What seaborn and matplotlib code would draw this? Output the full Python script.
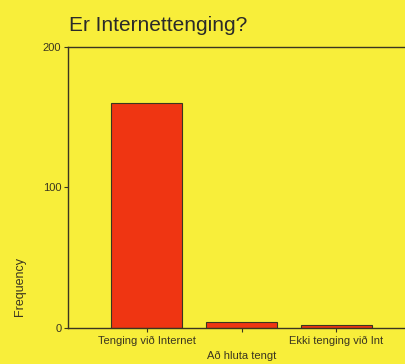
import matplotlib
matplotlib.use("Agg")
import matplotlib.pyplot as plt
import seaborn as sns
import pandas as pd

# data
categories = ["Tenging við Internet", "Að hluta tengt", "Ekki tenging við Int"]
counts = [160, 4, 2]
tick_labels = ["Tenging við Internet", "\nAð hluta tengt", "Ekki tenging við Int"]

bg = "#F8EE3A"
bar_red = "#EF3512"
dark = "#3A3520"

sns.set_style("white")
plt.rcParams['font.family'] = ['Liberation Sans', 'DejaVu Sans']

df = pd.DataFrame({"cat": categories, "n": counts})

fig = plt.figure(figsize=(4.06, 3.64), dpi=100, facecolor=bg)
ax = fig.add_axes([0.168, 0.0997, 0.832, 0.771], facecolor=bg)

sns.barplot(data=df, x="cat", y="n", color=bar_red, saturation=1,
            edgecolor=dark, linewidth=0.8, width=0.75, ax=ax)

ax.set_xlim(-0.83, 2.736)
ax.set_ylim(0, 200)
ax.set_yticks([0, 100, 200])
ax.set_xticks(range(len(categories)))
ax.set_xticklabels(tick_labels, fontsize=8, color=dark, linespacing=1.6)
ax.tick_params(axis='y', labelsize=8, colors=dark, length=3, width=0.8,
               direction='out', left=True, pad=2)
ax.tick_params(axis='x', colors=dark, length=3, width=0.8,
               direction='out', bottom=True, pad=3)

for side in ["left", "bottom", "top"]:
    ax.spines[side].set_visible(True)
    ax.spines[side].set_color(dark)
    ax.spines[side].set_linewidth(1.0)
ax.spines["right"].set_visible(False)

ax.set_xlabel("")
ax.set_ylabel("")
# y label sits low along the axis, like the original
fig.text(0.050, 0.212, "Frequency", fontsize=9, color=dark, rotation=90,
         ha="center", va="center")

fig.text(0.170, 0.931, "Er Internettenging?", fontsize=15, color="#2A2A2A",
         ha="left", va="center")

fig.savefig("out.png", dpi=100, facecolor=bg)
